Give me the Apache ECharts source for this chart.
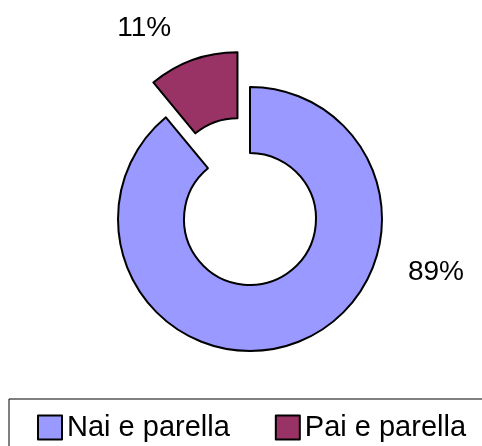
<!DOCTYPE html>
<html>
<head>
<meta charset="utf-8">
<script src="https://cdn.jsdelivr.net/npm/echarts@6/dist/echarts.min.js"></script>
<style>
  html, body { margin: 0; padding: 0; background: #fff; }
  #chart { width: 482px; height: 446px; }
</style>
</head>
<body>
<div id="chart"></div>
<script>
const categories = ['Nai e parella', 'Pai e parella']
const values = [89, 11]
const colors = ['#9999ff', '#993366']

const chart = echarts.init(document.getElementById('chart'))

chart.setOption({
  backgroundColor: '#fff',
  animation: false,
  legend: {
    data: categories,
    left: 9,
    top: 399,
    width: 700,
    orient: 'horizontal',
    padding: [14, 40, 20, 28],
    itemWidth: 24,
    itemHeight: 24,
    itemGap: 45,
    icon: 'rect',
    borderColor: '#000',
    borderWidth: 1,
    borderRadius: 0,
    selectedMode: false,
    textStyle: { color: '#000', fontSize: 29, fontFamily: 'Liberation Sans, Arial, sans-serif' }
  },
  series: [
    {
      type: 'pie',
      center: [250, 219],
      radius: [66, 132],
      startAngle: 90,
      clockwise: true,
      selectedMode: 'single',
      selectedOffset: 37,
      avoidLabelOverlap: false,
      emphasis: { disabled: true },
      itemStyle: { borderColor: '#000', borderWidth: 2 },
      label: {
        show: true,
        position: 'outside',
        formatter: '{d}%',
        color: '#000',
        fontSize: 28,
        fontFamily: 'Liberation Sans, Arial, sans-serif'
      },
      labelLine: { show: false },
      // big slice label sits off to the right like Excel puts it
      labelLayout: (params) => {
        if (params.dataIndex !== 0) return {}
        return { x: 436, y: 272, align: 'center', verticalAlign: 'middle' }
      },
      data: categories.map((name, i) => ({
        name,
        value: values[i],
        selected: i === 1,
        itemStyle: { color: colors[i] },
        labelLine: i === 1 ? { show: false, length: 34, length2: 5 } : undefined
      }))
    }
  ]
})
</script>
</body>
</html>
